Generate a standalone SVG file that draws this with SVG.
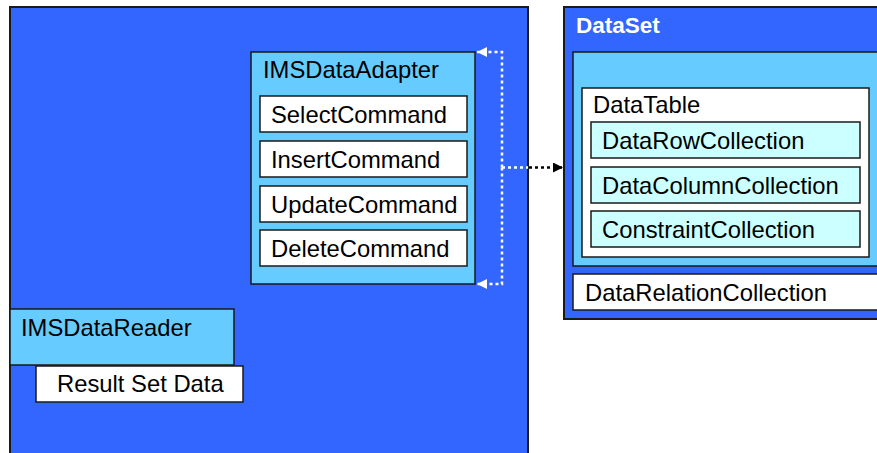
<svg xmlns="http://www.w3.org/2000/svg" width="877" height="453" viewBox="0 0 877 453">
<style>
text{font-family:"Liberation Sans",Arial,sans-serif;font-size:23.8px;fill:#000}
.blue{fill:#3366FF;stroke:#1a1a1a;stroke-width:2}
.lb{fill:#66CCFF;stroke:#1a1a1a;stroke-width:1.5}
.wh{fill:#FFFFFF;stroke:#1a1a1a;stroke-width:1.5}
.cy{fill:#CCFFFF;stroke:#1a1a1a;stroke-width:1.5}
.dw{fill:none;stroke:#FFFFFF;stroke-width:2.5;stroke-dasharray:3 3}
.db{fill:none;stroke:#000000;stroke-width:2.5;stroke-dasharray:3 3}
</style>
<defs>
<marker id="aw" viewBox="0 0 10 10" refX="10" refY="5" markerWidth="4" markerHeight="4" orient="auto" markerUnits="strokeWidth"><path d="M0,0 L10,5 L0,10 z" fill="#FFFFFF"/></marker>
<marker id="ab" viewBox="0 0 10 10" refX="10" refY="5" markerWidth="4" markerHeight="4" orient="auto" markerUnits="strokeWidth"><path d="M0,0 L10,5 L0,10 z" fill="#000000"/></marker>
</defs>
<rect width="877" height="453" fill="#FFFFFF"/>
<g id="client">
<rect class="blue" x="10" y="7" width="518" height="460"/>
</g>
<g id="IMSDataAdapter">
<rect class="lb" x="251" y="52" width="224" height="232"/>
<text x="263" y="78">IMSDataAdapter</text>
<rect class="wh" x="260" y="96" width="207" height="36"/>
<text x="271" y="123">SelectCommand</text>
<rect class="wh" x="260" y="141" width="207" height="36"/>
<text x="271" y="168">InsertCommand</text>
<rect class="wh" x="260" y="186" width="207" height="36"/>
<text x="271" y="213">UpdateCommand</text>
<rect class="wh" x="260" y="230" width="207" height="36"/>
<text x="271" y="257">DeleteCommand</text>
</g>
<g id="IMSDataReader">
<rect class="lb" x="10" y="309" width="224" height="56"/>
<text x="21" y="336">IMSDataReader</text>
</g>
<g id="ResultSetData">
<rect class="wh" x="36" y="366" width="207" height="36"/>
<text x="57" y="392">Result Set Data</text>
</g>
<g id="DataSet">
<rect class="blue" x="564" y="7" width="330" height="312"/>
<text x="576" y="33" style="font-weight:bold;fill:#FFFFFF;font-size:22.5px">DataSet</text>
<rect class="lb" x="573" y="52" width="320" height="214"/>
<rect class="wh" x="573" y="274" width="320" height="36"/>
<text x="585" y="301">DataRelationCollection</text>
</g>
<g id="DataTable">
<rect class="wh" x="582" y="88" width="287" height="169"/>
<text x="593" y="113">DataTable</text>
<rect class="cy" x="591" y="122" width="269" height="36"/>
<text x="602" y="149">DataRowCollection</text>
<rect class="cy" x="591" y="167" width="269" height="36"/>
<text x="602" y="194">DataColumnCollection</text>
<rect class="cy" x="591" y="211" width="269" height="36"/>
<text x="602" y="238">ConstraintCollection</text>
</g>
<g id="connectors">
<path class="dw" d="M502,167.5 L502,52 L477,52" marker-end="url(#aw)"/>
<path class="dw" d="M502,167.5 L502,284 L477,284" marker-end="url(#aw)"/>
<path class="dw" d="M502,167.5 L528,167.5"/>
<path class="db" d="M529,167.5 L563,167.5" marker-end="url(#ab)"/>
</g>
</svg>
